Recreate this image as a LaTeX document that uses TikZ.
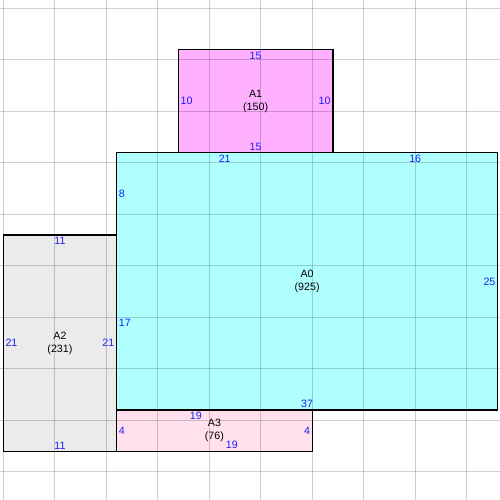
\documentclass[tikz,border=0pt]{standalone}
\usepackage{fontspec}
\setmainfont{Liberation Sans}
\usetikzlibrary{positioning}
\definecolor{lengthblue}{RGB}{30,30,250}
\tikzset{
    grid style/.style={black, opacity=.19, line width=.75pt},
    room style/.style={draw=black, line width=1pt},
    room A0/.style={fill={rgb,255:red,176;green,255;blue,255}},
    room A1/.style={fill={rgb,255:red,255;green,176;blue,255}},
    room A2/.style={fill={rgb,255:red,235;green,235;blue,235}},
    room A3/.style={fill={rgb,255:red,255;green,224;blue,236}},
    length/.style={color=lengthblue, inner sep=1.5pt},
    room label/.style={align=center, inner sep=0pt},
}
\tikzstyle{every node}=[font=\fontsize{8}{9.75}\selectfont]

\begin{document}
\begin{tikzpicture}[x=0.2715cm, y=0.2715cm]
        \useasboundingbox (-0.32,-4.73) rectangle (48.22,43.82);
        % floor areas
        \fill[room A0] (11,4) rectangle (48,29);
        \fill[room A1] (17,29) rectangle (32,39);
        \fill[room A2] (0,0) rectangle (11,21);
        \fill[room A3] (11,0) rectangle (30,4);
        % grid
        \foreach \x in {0,5,...,45}
            \draw[grid style] (\x,-4.73) -- (\x,43.82);
        \foreach \y in {-2,3,...,43}
            \draw[grid style] (-0.32,\y) -- (48.22,\y);
        % outlines
        \draw[room style] (11,4) rectangle (48,29);
        \draw[room style] (17,29) rectangle (32,39);
        \draw[room style] (0,0) rectangle (11,21);
        \draw[room style] (11,0) rectangle (30,4);

        % A0
        \node[room label] (A0) at (29.5,16.5) {A0\\(925)};
        \node[length, below] (A0top1) at (21.5,29) {21};
        \node[length, below] (A0top2) at (40,29) {16};
        \node[length, right] (A0left1) at (11,25) {8};
        \node[length, right] (A0left2) at (11,12.5) {17};
        \node[length, left] (A0right) at (48,16.5) {25};
        \node[length, above] (A0bottom) at (29.5,4) {37};

        % A1
        \node[room label] (A1) at (24.5,34) {A1\\(150)};
        \node[length, below] (A1top) at (24.5,39) {15};
        \node[length, right] (A1left) at (17,34) {10};
        \node[length, left] (A1right) at (32,34) {10};
        \node[length, above] (A1bottom) at (24.5,29) {15};

        % A2
        \node[room label] (A2) at (5.5,10.5) {A2\\(231)};
        \node[length, below] (A2top) at (5.5,21) {11};
        \node[length, right] (A2left) at (0,10.5) {21};
        \node[length, left] (A2right) at (11,10.5) {21};
        \node[length, above] (A2bottom) at (5.5,0) {11};

        % A3
        \node[room label] (A3) at (20.5,2) {A3\\(76)};
        \node[length, below] (A3top) at (18.7,4) {19};
        \node[length, right] (A3left) at (11,2) {4};
        \node[length, left] (A3right) at (30,2) {4};
        \node[length, above] (A3bottom) at (22.2,0) {19};
    \end{tikzpicture}
\end{document}
